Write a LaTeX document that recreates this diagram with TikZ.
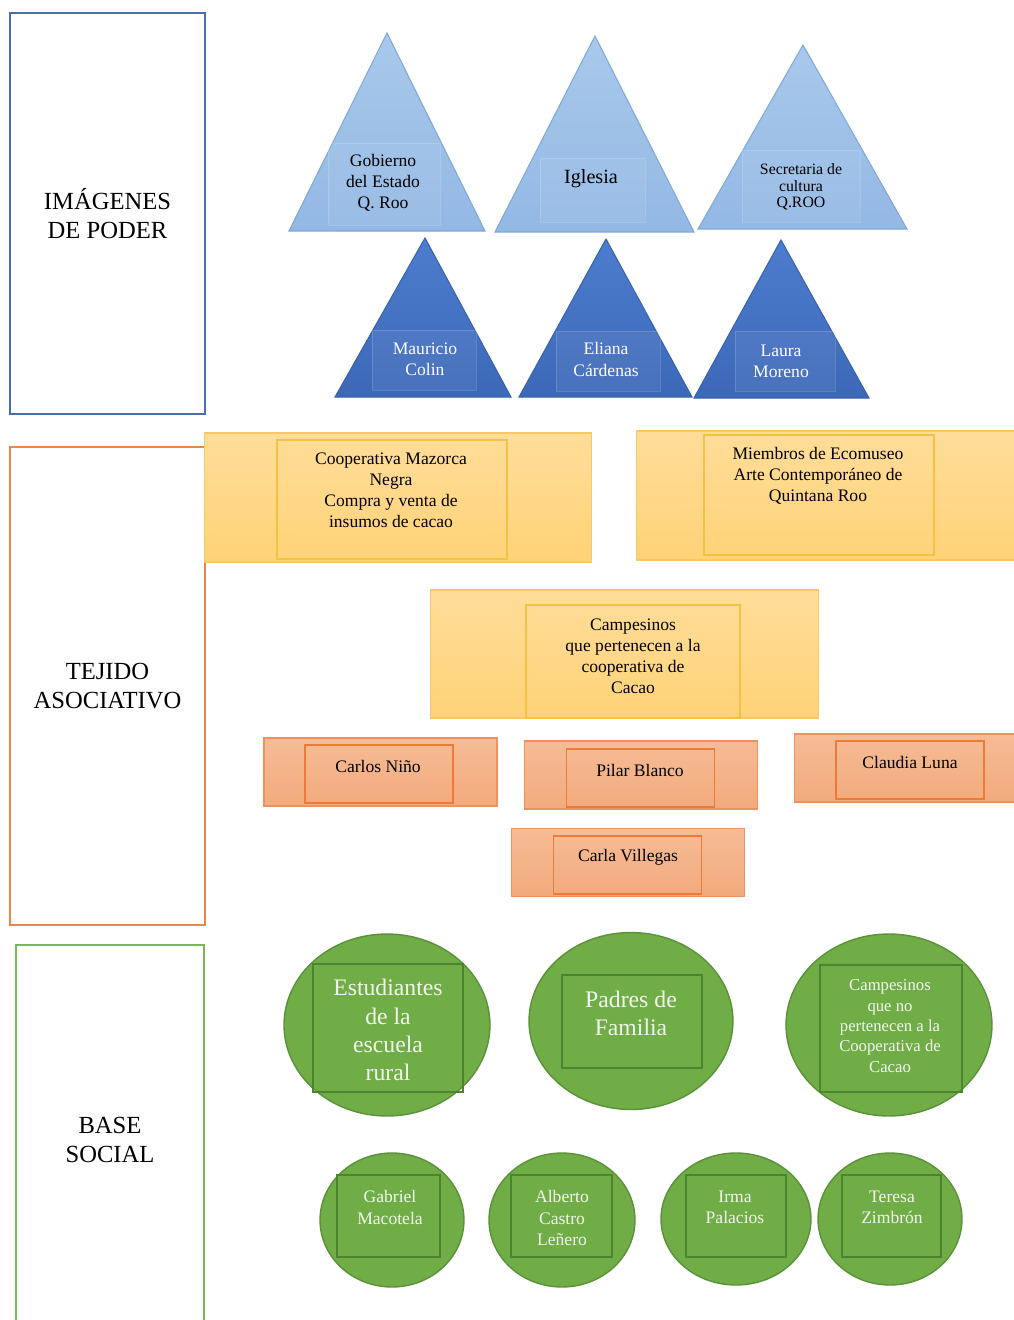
\documentclass[tikz,border=0pt]{standalone}
\usepackage{fontspec}
\setmainfont{Liberation Serif}
\usetikzlibrary{positioning}
\usetikzlibrary{shapes.geometric}
\definecolor{poderborde}{HTML}{4A6FA8}
\definecolor{tejidoborde}{HTML}{E8874A}
\definecolor{baseborde}{HTML}{7DB65A}
\definecolor{azulclaroA}{HTML}{A9C9EB}
\definecolor{azulclaroB}{HTML}{93B8E4}
\definecolor{azulclaroL}{HTML}{7FA8DB}
\definecolor{azulA}{HTML}{4D7DCE}
\definecolor{azulB}{HTML}{3D68B8}
\definecolor{azulL}{HTML}{3862B0}
\definecolor{amarilloA}{HTML}{FFDD99}
\definecolor{amarilloB}{HTML}{FFD277}
\definecolor{amarilloL}{HTML}{F8C868}
\definecolor{amarilloI}{HTML}{F5C140}
\definecolor{salmonA}{HTML}{F6BC96}
\definecolor{salmonB}{HTML}{F2AA7C}
\definecolor{salmonL}{HTML}{EE9360}
\definecolor{salmonI}{HTML}{EC7B38}
\definecolor{verde}{HTML}{70AD47}
\definecolor{verdeL}{HTML}{5B9239}
\definecolor{verdeI}{HTML}{4C8430}
\definecolor{textoverde}{HTML}{F2F7EE}
\begin{document}
\begin{tikzpicture}[x=0.02cm,y=-0.02cm,inner sep=0pt,outer sep=0pt]
	\tikzstyle{nivel}=[draw,line width=1.1pt,fill=white,align=center,font=\fontsize{14}{17}\selectfont]
	\tikzstyle{piramide}=[draw=azulclaroL,line width=0.6pt,top color=azulclaroA,bottom color=azulclaroB]
	\tikzstyle{piramideosc}=[draw=azulL,line width=0.6pt,top color=azulA,bottom color=azulB]
	\tikzstyle{recuadro}=[draw=white,draw opacity=0.15,fill=white,fill opacity=0.06,line width=0.5pt]
	\tikzstyle{grupo}=[draw=amarilloL,line width=0.6pt,top color=amarilloA,bottom color=amarilloB,minimum width=7.76cm,minimum height=2.58cm]
	\tikzstyle{grupoint}=[draw=amarilloI,line width=0.6pt,minimum width=4.6cm,minimum height=2.38cm]
	\tikzstyle{persona}=[draw=salmonL,line width=0.6pt,top color=salmonA,bottom color=salmonB,minimum width=4.66cm,minimum height=1.36cm]
	\tikzstyle{personaint}=[draw=salmonI,line width=0.8pt,minimum width=2.96cm,minimum height=1.16cm]
	\tikzstyle{base}=[ellipse,draw=verdeL,line width=0.8pt,fill=verde]
	\tikzstyle{baseint}=[draw=verdeI,line width=1.1pt]
	\tikzstyle{texto}=[align=center,font=\fontsize{10}{12}\selectfont]
	\tikzstyle{textoblanco}=[texto,text=white]
	\tikzstyle{textoverde}=[texto,text=textoverde]
	
	\useasboundingbox (0,0) rectangle (1014,1320);
	\clip (0,0) rectangle (1014,1320);
	
	\node[nivel,draw=poderborde,minimum width=3.9cm,minimum height=8.02cm]  (poder)  at (107.5,213.5) {IMÁGENES\\DE PODER};
	\node[nivel,draw=tejidoborde,minimum width=3.9cm,minimum height=9.56cm] (tejido) at (107.5,686)   {TEJIDO\\ASOCIATIVO};
	\node[nivel,draw=baseborde,minimum width=3.76cm,minimum height=7.8cm]   (base)   at (110,1140)    {BASE\\SOCIAL};
	
	\shadedraw[piramide] (387,33) -- (485,231) -- (289,231) -- cycle;
	\shadedraw[piramide] (595,36) -- (694,232) -- (495,232) -- cycle;
	\shadedraw[piramide] (803,45) -- (907,229) -- (698,229) -- cycle;
	\shadedraw[piramideosc] (425,238) -- (511,397) -- (335,397) -- cycle;
	\shadedraw[piramideosc] (606,239) -- (692,397) -- (519,397) -- cycle;
	\shadedraw[piramideosc] (781,240) -- (869,398) -- (694,398) -- cycle;
	
	\node[recuadro,minimum width=2.24cm,minimum height=1.64cm] (gobR)  at (384,184)   {};
	\node[recuadro,minimum width=2.1cm,minimum height=1.28cm]  (igleR) at (592.5,190) {};
	\node[recuadro,minimum width=2.36cm,minimum height=1.44cm] (secR)  at (801,186)   {};
	\node[recuadro,minimum width=2.08cm,minimum height=1.2cm]  (mauR)  at (424,360)   {};
	\node[recuadro,minimum width=2.08cm,minimum height=1.2cm]  (eliR)  at (608,361)   {};
	\node[recuadro,minimum width=2cm,minimum height=1.2cm]     (lauR)  at (785,361)   {};
	
	\node[texto]                                    (gob)  at (383,183)   {Gobierno\\del Estado\\Q. Roo};
	\node[texto,font=\fontsize{11.5}{13}\selectfont] (igle) at (591,179)   {Iglesia};
	\node[texto,font=\fontsize{9}{9.5}\selectfont]  (sec)  at (801,187)   {Secretaria de\\cultura\\Q.ROO};
	\node[textoblanco]                              (mau)  at (425,359.5) {Mauricio\\Colin};
	\node[textoblanco]                              (eli)  at (606,359.5) {Eliana\\Cárdenas};
	\node[textoblanco]                              (lau)  at (781,361)   {Laura\\Moreno};
	
	\node[grupo] (coopB)  at (398,497.5) {};
	\node[grupo,minimum width=7.88cm] (ecoB) at (833,495.5) {};
	\node[grupo,minimum width=7.78cm,minimum height=2.56cm] (campB) at (624.5,654) {};
	\node[grupoint] (coopI) at (392,499.5) {};
	\node[grupoint,minimum height=2.4cm] (ecoI) at (819,495) {};
	\node[grupoint,minimum width=4.28cm,minimum height=2.26cm] (campI) at (633,661.5) {};
	\node[texto] (coop) at (391,490.5) {Cooperativa Mazorca\\Negra\\Compra y venta de\\insumos de cacao};
	\node[texto] (eco)  at (818,476)   {Miembros de Ecomuseo\\Arte Contemporáneo de\\Quintana Roo};
	\node[texto] (camp) at (633,656)   {Campesinos\\que pertenecen a la\\cooperativa de\\Cacao};
	
	\node[persona] (carlosB)  at (380.5,772) {};
	\node[persona] (pilarB)   at (641,775)   {};
	\node[persona] (claudiaB) at (910.5,768) {};
	\node[persona] (carlaB)   at (628,862.5) {};
	\node[personaint] (carlosI)  at (379,774)   {};
	\node[personaint] (pilarI)   at (640.5,778) {};
	\node[personaint] (claudiaI) at (910,770)   {};
	\node[personaint] (carlaI)   at (627.5,865) {};
	\node[texto] (carlos)  at (378,766) {Carlos Niño};
	\node[texto] (pilar)   at (640,770) {Pilar Blanco};
	\node[texto] (claudia) at (910,762) {Claudia Luna};
	\node[texto] (carla)   at (628,857) {Carla Villegas};
	
	\node[base,minimum width=4.12cm,minimum height=3.64cm] (estB)   at (387,1025) {};
	\node[base,minimum width=4.08cm,minimum height=3.54cm] (padB)   at (631,1021) {};
	\node[base,minimum width=4.12cm,minimum height=3.64cm] (campnB) at (889,1025) {};
	\node[base,minimum width=2.88cm,minimum height=2.68cm] (gabB)   at (392,1220) {};
	\node[base,minimum width=2.92cm,minimum height=2.68cm] (albB)   at (562,1220) {};
	\node[base,minimum width=3cm,minimum height=2.64cm]    (irmB)   at (736,1219) {};
	\node[base,minimum width=2.88cm,minimum height=2.64cm] (terB)   at (890,1219) {};
	\node[baseint,minimum width=3cm,minimum height=2.56cm]    (estI)   at (388,1028)    {};
	\node[baseint,minimum width=2.8cm,minimum height=1.86cm]  (padI)   at (632,1021.5)  {};
	\node[baseint,minimum width=2.84cm,minimum height=2.54cm] (campnI) at (891,1028.5)  {};
	\node[baseint,minimum width=2.06cm,minimum height=1.64cm] (gabI)   at (388.5,1216)  {};
	\node[baseint,minimum width=2.02cm,minimum height=1.64cm] (albI)   at (561.5,1216)  {};
	\node[baseint,minimum width=2cm,minimum height=1.64cm]    (irmI)   at (736,1216)    {};
	\node[baseint,minimum width=1.98cm,minimum height=1.64cm] (terI)   at (891.5,1216)  {};
	\node[textoverde,font=\fontsize{13.5}{16}\selectfont] (est)   at (388,1030) {Estudiantes\\de la\\escuela\\rural};
	\node[textoverde,font=\fontsize{13.5}{16}\selectfont] (pad)   at (631,1013) {Padres de\\Familia};
	\node[textoverde,font=\fontsize{9.5}{11.6}\selectfont] (campn) at (890,1026) {Campesinos\\que no\\pertenecen a la\\Cooperativa de\\Cacao};
	\node[textoverde] (gab) at (390,1207.5) {Gabriel\\Macotela};
	\node[textoverde] (alb) at (562,1218)   {Alberto\\Castro\\Leñero};
	\node[textoverde] (irm) at (735,1207.5) {Irma\\Palacios};
	\node[textoverde] (ter) at (892,1207.5) {Teresa\\Zimbrón};
\end{tikzpicture}
\end{document}
